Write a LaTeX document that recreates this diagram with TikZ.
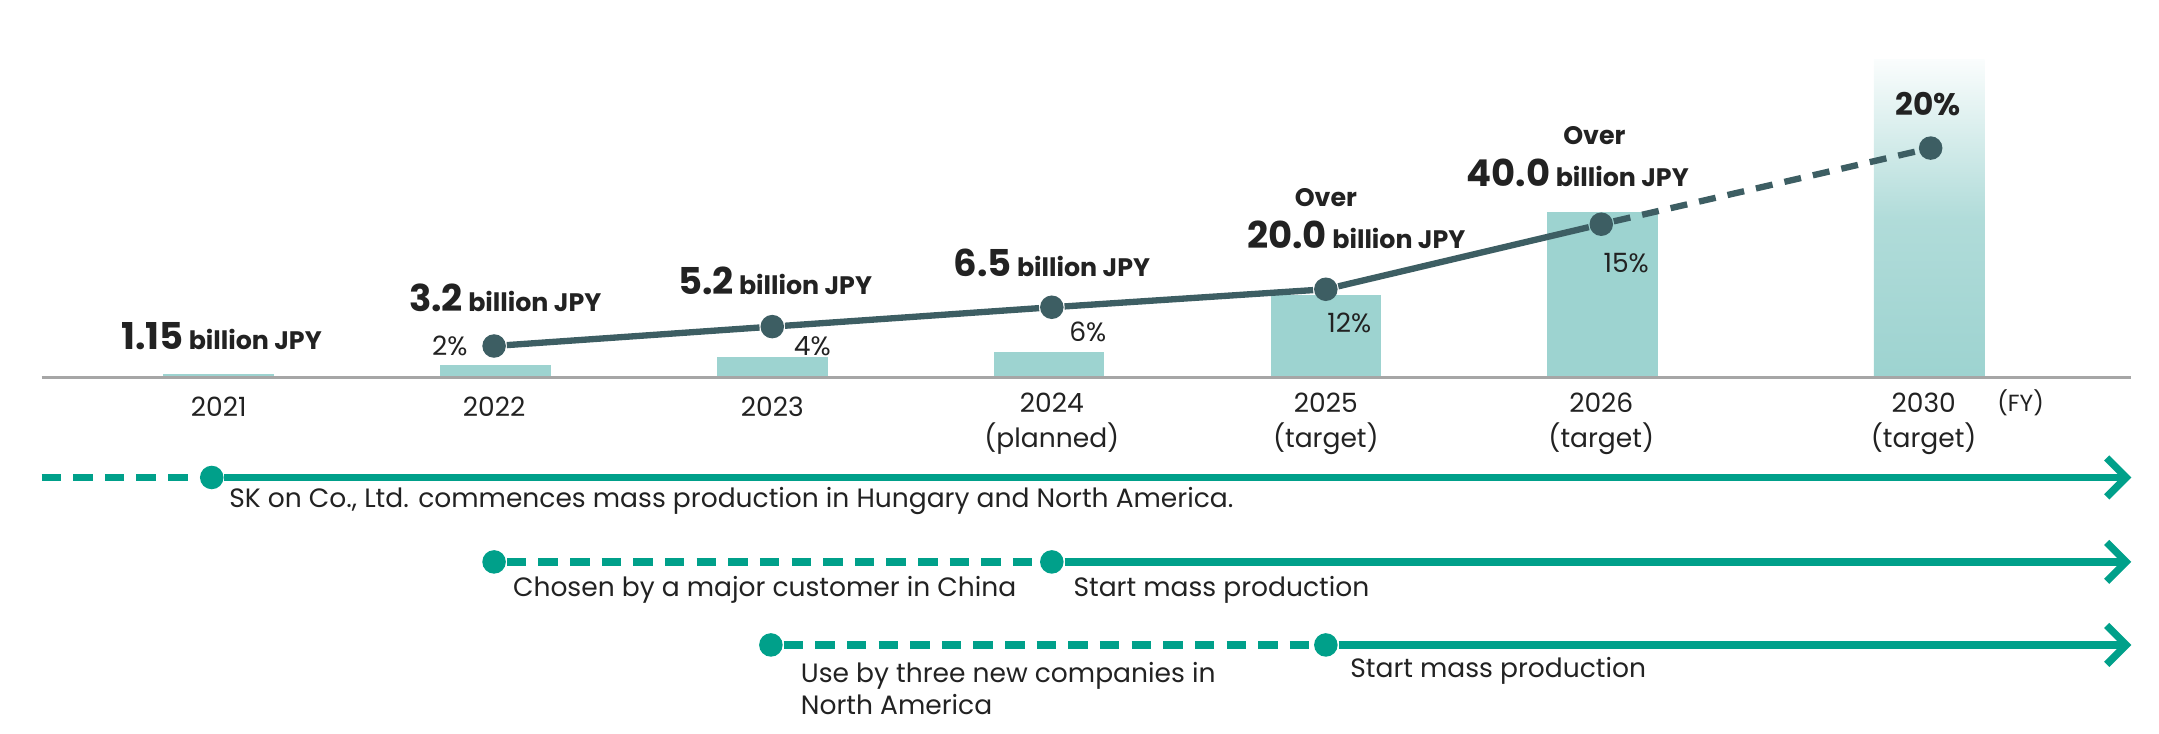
\documentclass[tikz,border=0pt]{standalone}
\usepackage{fontspec}
\setmainfont{Poppins}
\usetikzlibrary{arrows.meta}
\definecolor{bar}{HTML}{9DD3D0}
\definecolor{ln}{HTML}{3D5E63}
\definecolor{tl}{HTML}{00A08A}
\definecolor{tx}{HTML}{222222}
\begin{document}
\begin{tikzpicture}[x=0.01cm,y=-0.01cm,
  txt/.style={font=\fontsize{5.45}{6.6}\selectfont,text=tx,inner sep=0},
  val/.style={font=\fontsize{5.2}{6.2}\selectfont\bfseries,text=tx,inner sep=0},
  pdot/.style={circle,fill=ln,minimum size=0.17cm,inner sep=0},
  tdot/.style={circle,fill=tl,minimum size=0.17cm,inner sep=0},
  tline/.style={tl,line width=1.5pt},
  dsh/.style={tline,dash pattern=on 4pt off 2.5pt},
  arr/.style={tline,-{Straight Barb[length=4pt,width=8pt,line width=1.5pt]}}]
\useasboundingbox (0,0) rectangle (1560,530);
% bars
\fill[bar] (118,270) rectangle (198,273);
\fill[bar] (318,264) rectangle (398,273);
\fill[bar] (518,258) rectangle (598,273);
\fill[bar] (718,254) rectangle (798,273);
\fill[bar] (918,213) rectangle (998,273);
\fill[bar] (1118,153) rectangle (1198,273);
\shade[top color=bar!5,bottom color=bar,middle color=bar!80] (1354,43) rectangle (1434,273);
\draw[gray!70,line width=0.6pt] (30,273) -- (1540,273);
% line
\node[pdot] (p1) at (357,250) {};
\node[pdot] (p2) at (558,236) {};
\node[pdot] (p3) at (760,222) {};
\node[pdot] (p4) at (958,209) {};
\node[pdot] (p5) at (1157,162) {};
\node[pdot] (p6) at (1395,107) {};
\draw[ln,line width=1.3pt] (p1)--(p2)--(p3)--(p4)--(p5);
\draw[ln,line width=1.3pt,dash pattern=on 3.5pt off 2.5pt] (p5)--(p6);
% percents
\node[txt] at (325,250) {2\%};
\node[txt] at (587,250) {4\%};
\node[txt] at (786,240) {6\%};
\node[txt] at (975,233) {12\%};
\node[txt] at (1175,190) {15\%};
\node[txt,font=\fontsize{6.4}{8}\selectfont\bfseries] at (1393,75) {20\%};
% values
\node[val] at (160,243) {{\fontsize{7.6}{9}\selectfont 1.15} billion JPY};
\node[val] at (365,215) {{\fontsize{7.6}{9}\selectfont 3.2} billion JPY};
\node[val] at (560,203) {{\fontsize{7.6}{9}\selectfont 5.2} billion JPY};
\node[val] at (760,190) {{\fontsize{7.6}{9}\selectfont 6.5} billion JPY};
\node[val] at (958,143) {Over};
\node[val] at (980,170) {{\fontsize{7.6}{9}\selectfont 20.0} billion JPY};
\node[val] at (1152,98) {Over};
\node[val] at (1140,125) {{\fontsize{7.6}{9}\selectfont 40.0} billion JPY};
% years
\node[txt] at (158,294) {2021};
\node[txt] at (357,294) {2022};
\node[txt] at (558,294) {2023};
\node[txt] at (760,291) {2024};
\node[txt] at (760,317) {(planned)};
\node[txt] at (958,291) {2025};
\node[txt] at (958,317) {(target)};
\node[txt] at (1157,291) {2026};
\node[txt] at (1157,317) {(target)};
\node[txt] at (1390,291) {2030};
\node[txt] at (1390,317) {(target)};
\node[txt,font=\fontsize{4.8}{6}\selectfont] at (1460,291) {(FY)};
% timelines
\coordinate (s1) at (30,345); \node[tdot] (d1) at (153,345) {}; \coordinate (e1) at (1540,345);
\draw[dsh] (s1)--(d1);
\draw[arr] (d1)--(e1);
\node[txt,anchor=west] at (165,362) {SK on Co., Ltd. commences mass production in Hungary and North America.};
\node[tdot] (d2) at (357,406) {}; \node[tdot] (d3) at (760,406) {}; \coordinate (e2) at (1540,406);
\draw[dsh] (d2)--(d3);
\draw[arr] (d3)--(e2);
\node[txt,anchor=west] at (370,426) {Chosen by a major customer in China};
\node[txt,anchor=west] at (775,426) {Start mass production};
\node[tdot] (d4) at (557,466) {}; \node[tdot] (d5) at (958,466) {}; \coordinate (e3) at (1540,466);
\draw[dsh] (d4)--(d5);
\draw[arr] (d5)--(e3);
\node[txt,anchor=north west,align=left] at (578,478) {Use by three new companies in\\North America};
\node[txt,anchor=west] at (975,485) {Start mass production};
\end{tikzpicture}
\end{document}
